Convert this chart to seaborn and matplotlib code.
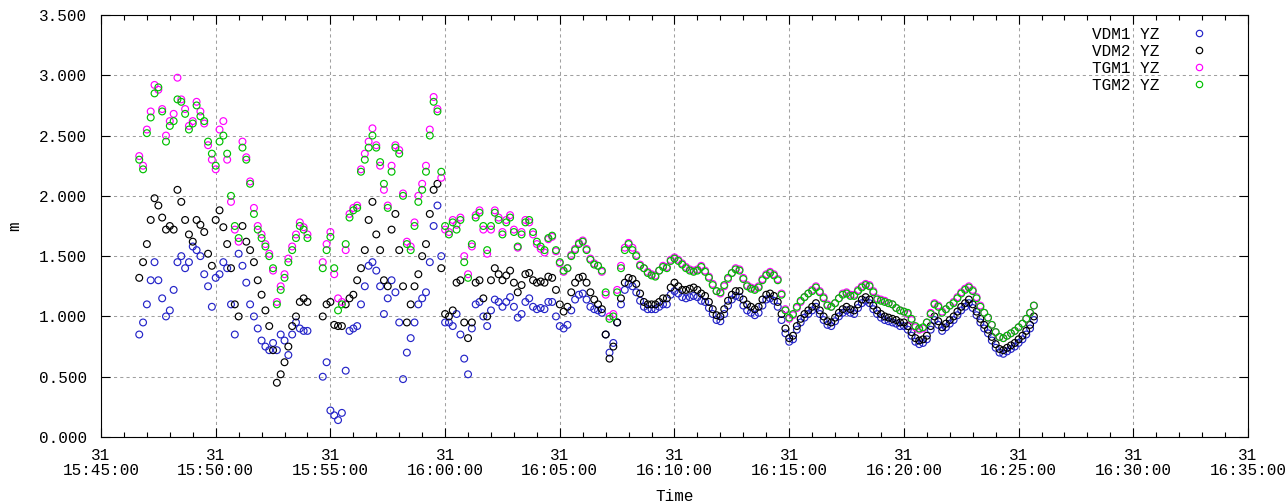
import numpy as np
import pandas as pd
import matplotlib
matplotlib.use("Agg")
import matplotlib.pyplot as plt
import matplotlib.dates as mdates
from matplotlib.lines import Line2D
import seaborn as sns

nan = np.nan

# ---- data (sampled every 10 s from 15:46:40 to 16:25:40) ----
start_time = "2015-12-31 15:46:40"
sample_step = "10s"

vdm1 = [0.85, 0.95,
        1.10, 1.30, 1.45, 1.30, 1.15, 1.00,
        1.05, 1.22, 1.45, 1.50, 1.40, 1.45,
        1.58, 1.55, 1.50, 1.35, 1.25, 1.08,
        1.32, 1.35, 1.45, 1.40, 1.10, 0.85,
        1.52, 1.42, 1.28, 1.10, 1.00, 0.90,
        0.80, 0.75, 0.72, 0.78, 0.72, 0.85,
        0.80, 0.68, 0.85, 0.95, 0.90, 0.88,
        0.88, nan, nan, nan, 0.50, 0.62,
        0.22, 0.18, 0.14, 0.20, 0.55, 0.88,
        0.90, 0.92, 1.10, 1.25, 1.42, 1.45,
        1.38, 1.25, 1.02, 1.15, 1.30, 1.20,
        0.95, 0.48, 0.70, 0.82, 0.95, 1.10,
        1.15, 1.20, 1.45, 1.75, 1.92, 1.50,
        0.95, 0.95, 0.92, 1.02, 0.85, 0.65,
        0.52, 0.90, 1.10, 1.12, 1.00, 0.92,
        1.05, 1.14, 1.12, 1.08, 1.12, 1.16,
        1.08, 0.99, 1.02, 1.12, 1.15, 1.08,
        1.06, 1.07, 1.06, 1.12, 1.12, 1.00,
        0.92, 0.90, 0.93, 1.05, 1.14, 1.18,
        1.19, 1.14, 1.08, 1.06, 1.05, 1.03,
        0.85, 0.70, 0.78, 0.95, 1.10, 1.22,
        1.27, 1.25, 1.20, 1.13, 1.08, 1.06,
        1.06, 1.06, 1.08, 1.10, 1.10, 1.18,
        1.21, 1.19, 1.16, 1.15, 1.16, 1.17,
        1.16, 1.13, 1.12, 1.07, 1.02, 0.97,
        0.96, 1.02, 1.09, 1.14, 1.17, 1.16,
        1.09, 1.05, 1.03, 1.01, 1.03, 1.09,
        1.14, 1.15, 1.13, 1.08, 0.97, 0.86,
        0.79, 0.81, 0.89, 0.95, 0.99, 1.02,
        1.05, 1.08, 1.02, 0.97, 0.93, 0.92,
        0.96, 1.00, 1.03, 1.05, 1.03, 1.02,
        1.07, 1.11, 1.13, 1.11, 1.06, 1.02,
        0.99, 0.97, 0.96, 0.95, 0.94, 0.92,
        0.92, 0.89, 0.84, 0.79, 0.77, 0.78,
        0.81, 0.89, 0.97, 0.93, 0.88, 0.91,
        0.94, 0.97, 1.01, 1.05, 1.08, 1.11,
        1.07, 1.01, 0.95, 0.90, 0.86, 0.80,
        0.74, 0.70, 0.69, 0.71, 0.73, 0.75,
        0.78, 0.81, 0.85, 0.90, 0.97]

vdm2 = [1.32, 1.45,
        1.60, 1.80, 1.98, 1.92, 1.82, 1.72,
        1.75, 1.72, 2.05, 1.95, 1.80, 1.68,
        1.62, 1.80, 1.76, 1.70, 1.52, 1.42,
        1.80, 1.88, 1.74, 1.60, 1.40, 1.10,
        1.00, 1.75, 1.62, 1.55, 1.45, 1.30,
        1.18, 1.05, 0.92, 0.72, 0.45, 0.52,
        0.62, 0.75, 0.92, 1.00, 1.12, 1.15,
        1.12, nan, nan, nan, 1.00, 1.10,
        1.12, 0.93, 0.92, 0.92, 1.10, 1.15,
        1.18, 1.30, 1.40, 1.55, 1.80, 1.95,
        1.68, 1.55, 1.30, 1.25, 1.72, 1.85,
        1.55, 1.25, 0.95, 1.10, 1.25, 1.35,
        1.50, 1.60, 1.85, 2.05, 2.10, 1.40,
        1.02, 1.00, 1.05, 1.28, 1.30, 0.95,
        0.82, 0.95, 1.28, 1.30, 1.15, 1.00,
        1.30, 1.40, 1.35, 1.30, 1.34, 1.38,
        1.28, 1.20, 1.26, 1.35, 1.36, 1.30,
        1.28, 1.29, 1.28, 1.33, 1.32, 1.22,
        1.10, 1.04, 1.08, 1.20, 1.28, 1.32,
        1.33, 1.28, 1.20, 1.14, 1.10, 1.06,
        0.85, 0.65, 0.75, 0.95, 1.15, 1.28,
        1.32, 1.31, 1.27, 1.19, 1.12, 1.10,
        1.10, 1.10, 1.12, 1.15, 1.15, 1.24,
        1.28, 1.25, 1.22, 1.22, 1.23, 1.24,
        1.22, 1.19, 1.17, 1.12, 1.06, 1.01,
        1.00, 1.06, 1.13, 1.18, 1.21, 1.21,
        1.14, 1.10, 1.08, 1.06, 1.08, 1.14,
        1.18, 1.19, 1.17, 1.12, 1.02, 0.90,
        0.82, 0.84, 0.92, 0.98, 1.02, 1.05,
        1.08, 1.11, 1.05, 1.00, 0.96, 0.95,
        0.99, 1.03, 1.06, 1.08, 1.06, 1.05,
        1.10, 1.14, 1.16, 1.14, 1.09, 1.05,
        1.02, 1.00, 0.99, 0.98, 0.97, 0.95,
        0.95, 0.92, 0.87, 0.82, 0.80, 0.81,
        0.84, 0.92, 1.00, 0.96, 0.91, 0.94,
        0.97, 1.00, 1.04, 1.08, 1.11, 1.14,
        1.10, 1.04, 0.98, 0.93, 0.89, 0.83,
        0.77, 0.73, 0.72, 0.74, 0.76, 0.78,
        0.81, 0.84, 0.88, 0.93, 1.00]

tgm1 = [2.33, 2.25,
        2.55, 2.70, 2.92, 2.88, 2.72, 2.50,
        2.62, 2.68, 2.98, 2.80, 2.72, 2.58,
        2.62, 2.78, 2.70, 2.60, 2.42, 2.30,
        2.22, 2.55, 2.62, 2.30, 1.95, 1.72,
        1.62, 2.45, 2.32, 2.12, 1.90, 1.75,
        1.68, 1.60, 1.52, 1.38, 1.12, 1.25,
        1.35, 1.48, 1.58, 1.68, 1.78, 1.74,
        1.68, nan, nan, nan, 1.45, 1.60,
        1.70, 1.35, 1.15, 1.12, 1.55, 1.85,
        1.90, 1.92, 2.22, 2.35, 2.45, 2.56,
        2.42, 2.25, 2.05, 1.92, 2.25, 2.42,
        2.38, 2.02, 1.62, 1.58, 1.78, 2.00,
        2.10, 2.25, 2.55, 2.82, 2.72, 2.15,
        1.72, 1.70, 1.80, 1.76, 1.82, 1.50,
        1.35, 1.58, 1.84, 1.88, 1.72, 1.52,
        1.72, 1.88, 1.82, 1.70, 1.80, 1.84,
        1.72, 1.57, 1.70, 1.80, 1.78, 1.68,
        1.60, 1.56, 1.53, 1.64, 1.66, 1.54,
        1.44, 1.37, 1.40, 1.51, 1.56, 1.61,
        1.63, 1.56, 1.48, 1.44, 1.42, 1.37,
        1.18, 1.00, 1.02, 1.22, 1.42, 1.57,
        1.61, 1.57, 1.51, 1.43, 1.40, 1.37,
        1.35, 1.34, 1.38, 1.42, 1.41, 1.47,
        1.49, 1.47, 1.44, 1.41, 1.39, 1.38,
        1.39, 1.42, 1.38, 1.33, 1.27, 1.21,
        1.19, 1.25, 1.31, 1.36, 1.40, 1.39,
        1.32, 1.26, 1.24, 1.23, 1.25, 1.31,
        1.35, 1.37, 1.35, 1.31, 1.19, 1.06,
        0.98, 1.01, 1.07, 1.12, 1.16, 1.19,
        1.22, 1.25, 1.21, 1.16, 1.10, 1.08,
        1.11, 1.15, 1.19, 1.20, 1.18, 1.18,
        1.22, 1.25, 1.27, 1.26, 1.21, 1.15,
        1.14, 1.13, 1.11, 1.10, 1.07, 1.05,
        1.04, 1.02, 0.97, 0.91, 0.89, 0.90,
        0.95, 1.03, 1.11, 1.09, 1.04, 1.06,
        1.09, 1.12, 1.16, 1.20, 1.23, 1.25,
        1.22, 1.16, 1.09, 1.03, 0.99, 0.93,
        0.87, 0.83, 0.82, 0.84, 0.86, 0.88,
        0.91, 0.94, 0.98, 1.03, 1.09]

tgm2 = [2.30, 2.22,
        2.52, 2.65, 2.85, 2.90, 2.70, 2.45,
        2.58, 2.62, 2.80, 2.78, 2.68, 2.55,
        2.60, 2.75, 2.66, 2.62, 2.45, 2.35,
        2.25, 2.45, 2.50, 2.35, 2.00, 1.75,
        1.65, 2.40, 2.30, 2.10, 1.85, 1.72,
        1.65, 1.58, 1.50, 1.40, 1.10, 1.22,
        1.32, 1.45, 1.55, 1.65, 1.75, 1.72,
        1.65, nan, nan, nan, 1.40, 1.55,
        1.66, 1.40, 1.05, 1.10, 1.60, 1.82,
        1.88, 1.90, 2.20, 2.30, 2.40, 2.50,
        2.40, 2.28, 2.10, 1.90, 2.20, 2.40,
        2.35, 2.00, 1.60, 1.55, 1.75, 1.95,
        2.05, 2.20, 2.50, 2.78, 2.70, 2.20,
        1.75, 1.68, 1.78, 1.72, 1.80, 1.45,
        1.32, 1.60, 1.82, 1.86, 1.75, 1.55,
        1.75, 1.86, 1.80, 1.68, 1.78, 1.82,
        1.70, 1.58, 1.68, 1.78, 1.80, 1.70,
        1.62, 1.58, 1.55, 1.65, 1.67, 1.55,
        1.45, 1.38, 1.40, 1.50, 1.55, 1.60,
        1.62, 1.55, 1.47, 1.43, 1.42, 1.38,
        1.20, 0.98, 1.00, 1.20, 1.40, 1.55,
        1.60, 1.55, 1.50, 1.42, 1.40, 1.36,
        1.34, 1.33, 1.38, 1.41, 1.40, 1.46,
        1.48, 1.46, 1.43, 1.40, 1.38, 1.37,
        1.38, 1.41, 1.37, 1.32, 1.26, 1.21,
        1.20, 1.26, 1.32, 1.36, 1.39, 1.38,
        1.31, 1.25, 1.23, 1.22, 1.24, 1.30,
        1.34, 1.36, 1.34, 1.30, 1.18, 1.05,
        0.99, 1.02, 1.08, 1.13, 1.16, 1.19,
        1.21, 1.24, 1.20, 1.15, 1.09, 1.08,
        1.11, 1.15, 1.18, 1.19, 1.17, 1.17,
        1.21, 1.24, 1.26, 1.25, 1.20, 1.14,
        1.13, 1.12, 1.11, 1.10, 1.07, 1.05,
        1.04, 1.03, 0.98, 0.92, 0.90, 0.91,
        0.95, 1.02, 1.10, 1.08, 1.03, 1.06,
        1.09, 1.11, 1.15, 1.19, 1.22, 1.24,
        1.21, 1.15, 1.08, 1.03, 0.99, 0.93,
        0.87, 0.83, 0.82, 0.84, 0.86, 0.88,
        0.91, 0.94, 0.98, 1.03, 1.09]

series_labels = ["VDM1 YZ", "VDM2 YZ", "TGM1 YZ", "TGM2 YZ"]
series_colors = ["#2424c8", "#000000", "#ff00ff", "#00c000"]
y_ticks = [0.0, 0.5, 1.0, 1.5, 2.0, 2.5, 3.0, 3.5]
x_start = "2015-12-31 15:45:00"
x_end = "2015-12-31 16:35:00"

# ---- build frame ----
times = pd.date_range(start_time, periods=len(vdm1), freq=sample_step)

# ---- style ----
sns.set_theme(style="ticks")
plt.rcParams["font.family"] = ["Liberation Mono", "DejaVu Sans Mono"]
plt.rcParams["font.size"] = 11.5
plt.rcParams["text.color"] = "black"
plt.rcParams["axes.labelcolor"] = "black"
plt.rcParams["xtick.color"] = "black"
plt.rcParams["ytick.color"] = "black"

W, H = 1286, 504
L, R, T, B = 101, 1248, 15, 437
fig = plt.figure(figsize=(W / 100, H / 100), dpi=100)
ax = fig.add_axes([L / W, 1 - B / H, (R - L) / W, (B - T) / H])

handles = []
for vals, lab, col in zip([vdm1, vdm2, tgm1, tgm2], series_labels, series_colors):
    df = pd.DataFrame({"Time": times, "m": vals})
    sns.scatterplot(data=df, x="Time", y="m", ax=ax, marker="o", s=24,
                    facecolors="none", edgecolor=col, color=col,
                    linewidth=0.85, legend=False, zorder=3)
    handles.append(Line2D([], [], marker="o", linestyle="none",
                          markerfacecolor="none", markeredgecolor=col,
                          markersize=4.6, markeredgewidth=0.85))

ax.set_xlim(pd.Timestamp(x_start), pd.Timestamp(x_end))
ax.set_ylim(y_ticks[0], y_ticks[-1])
ax.set_yticks(y_ticks)
ax.yaxis.set_major_formatter(matplotlib.ticker.FormatStrFormatter("%.3f"))
ax.xaxis.set_major_locator(mdates.MinuteLocator(byminute=range(0, 60, 5)))
ax.xaxis.set_minor_locator(mdates.MinuteLocator())
ax.xaxis.set_major_formatter(mdates.DateFormatter("%d\n%H:%M:%S"))

ax.tick_params(which="both", direction="in", top=True, right=True,
               labelsize=11.5, width=0.8, color="black")
ax.tick_params(which="major", length=6.5, pad=8)
ax.tick_params(axis="y", which="major", pad=10)
ax.tick_params(which="minor", length=3.5)

for sp in ax.spines.values():
    sp.set_visible(True)
    sp.set_color("black")
    sp.set_linewidth(0.8)

ax.grid(True, which="major", color="#a0a0a0", linestyle=(0, (3, 3)), linewidth=0.75)
ax.set_axisbelow(True)

ax.set_xlabel("Time", fontsize=11.5)
ax.set_ylabel("m", fontsize=11.5)
ax.xaxis.set_label_coords(0.5, -0.142)
ax.xaxis.label.set_va("center")
ax.yaxis.set_label_coords((15 - L) / (R - L), 0.5)
ax.yaxis.label.set_va("center")

ax.legend(handles, series_labels, loc="upper right",
          bbox_to_anchor=((1207 - L) / (R - L), (B - 27) / (B - T)),
          frameon=False, markerfirst=False, handlelength=1.0,
          handletextpad=2.0, labelspacing=0.12, borderpad=0,
          borderaxespad=0, fontsize=11.5)

fig.canvas.draw()
for lbl in ax.get_xticklabels():
    lbl.set_linespacing(1.0)

fig.savefig("out.png", dpi=100)
